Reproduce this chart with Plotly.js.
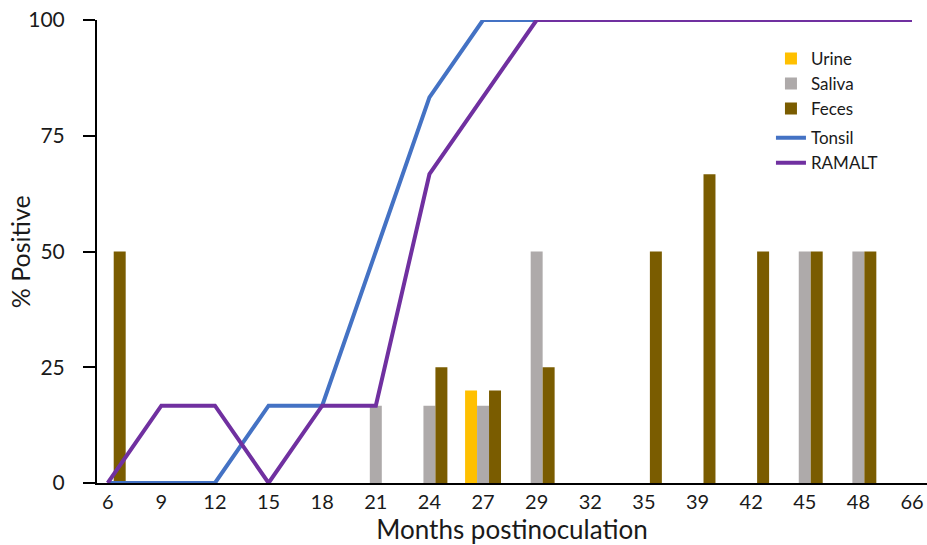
<!DOCTYPE html>
<html>
<head>
<meta charset="utf-8">
<script src="https://cdn.plot.ly/plotly-3.0.1.min.js"></script>
<style>html,body{margin:0;padding:0;background:#fff;}#chart{width:927px;height:545px;}</style>
</head>
<body>
<div id="chart"></div>
<script>
const months = ["6","9","12","15","18","21","24","27","29","32","35","39","42","45","48","66"];
const urine  = [0,0,0,0,0,0,0,20,0,0,0,0,0,0,0,0];
const saliva = [0,0,0,0,0,16.7,16.7,16.7,50,0,0,0,0,50,50,0];
const feces  = [50,0,0,0,0,0,25,20,25,0,50,66.7,50,50,50,0];
const tonsil = [0,0,0,16.7,16.7,50,83.3,100,100,100,100,100,100,100,100,100];
const ramalt = [0,16.7,16.7,0,16.7,16.7,66.7,83.3,100,100,100,100,100,100,100,100];

const font = "Lato, 'Open Sans', sans-serif";
const data = [
  {type:'bar', name:'Urine', x:months, y:urine, marker:{color:'#FFC000'}, legendgroup:'a'},
  {type:'bar', name:'Saliva', x:months, y:saliva, marker:{color:'#AEAAAA'}, legendgroup:'a'},
  {type:'bar', name:'Feces', x:months, y:feces, marker:{color:'#7A5C00'}, legendgroup:'a'},
  {type:'scatter', mode:'lines', name:'Tonsil', x:months, y:tonsil, line:{color:'#4472C4', width:4}, cliponaxis:false, legendgroup:'b'},
  {type:'scatter', mode:'lines', name:'RAMALT', x:months, y:ramalt, line:{color:'#7030A0', width:4}, cliponaxis:false, legendgroup:'b'}
];
const layout = {
  width:927, height:545,
  margin:{l:97, r:0, t:20, b:62},
  paper_bgcolor:'#fff', plot_bgcolor:'#fff',
  font:{family:font, color:'#1a1a1a'},
  barmode:'group', bargap:0.33, bargroupgap:0,
  showlegend:true,
  legend:{x:0.812, y:0.955, xanchor:'left', yanchor:'top', font:{size:17, family:font}, traceorder:'grouped', tracegroupgap:4, bgcolor:'rgba(0,0,0,0)', itemwidth:30},
  xaxis:{type:'category', range:[-0.2, 15.28], showline:true, linecolor:'#000', linewidth:2, ticks:'', showgrid:false, zeroline:false,
    tickfont:{size:20, family:font}, title:{text:'Months postinoculation', font:{size:26, family:font}, standoff:6}, fixedrange:true},
  yaxis:{range:[0,100], tickvals:[0,25,50,75,100], showline:true, linecolor:'#000', linewidth:2, ticks:'outside', ticklen:12, tickwidth:2, tickcolor:'#000',
    ticklabelstandoff:14, showgrid:false, zeroline:false, tickfont:{size:21, family:font}, fixedrange:true},
  annotations:[{text:'% Positive', xref:'paper', yref:'paper', x:-0.093, y:0.5, xanchor:'center', yanchor:'middle', textangle:-90, showarrow:false, font:{size:25, family:font, color:'#1a1a1a'}}]
};
Plotly.newPlot('chart', data, layout, {displayModeBar:false, staticPlot:true});
</script>
</body>
</html>
